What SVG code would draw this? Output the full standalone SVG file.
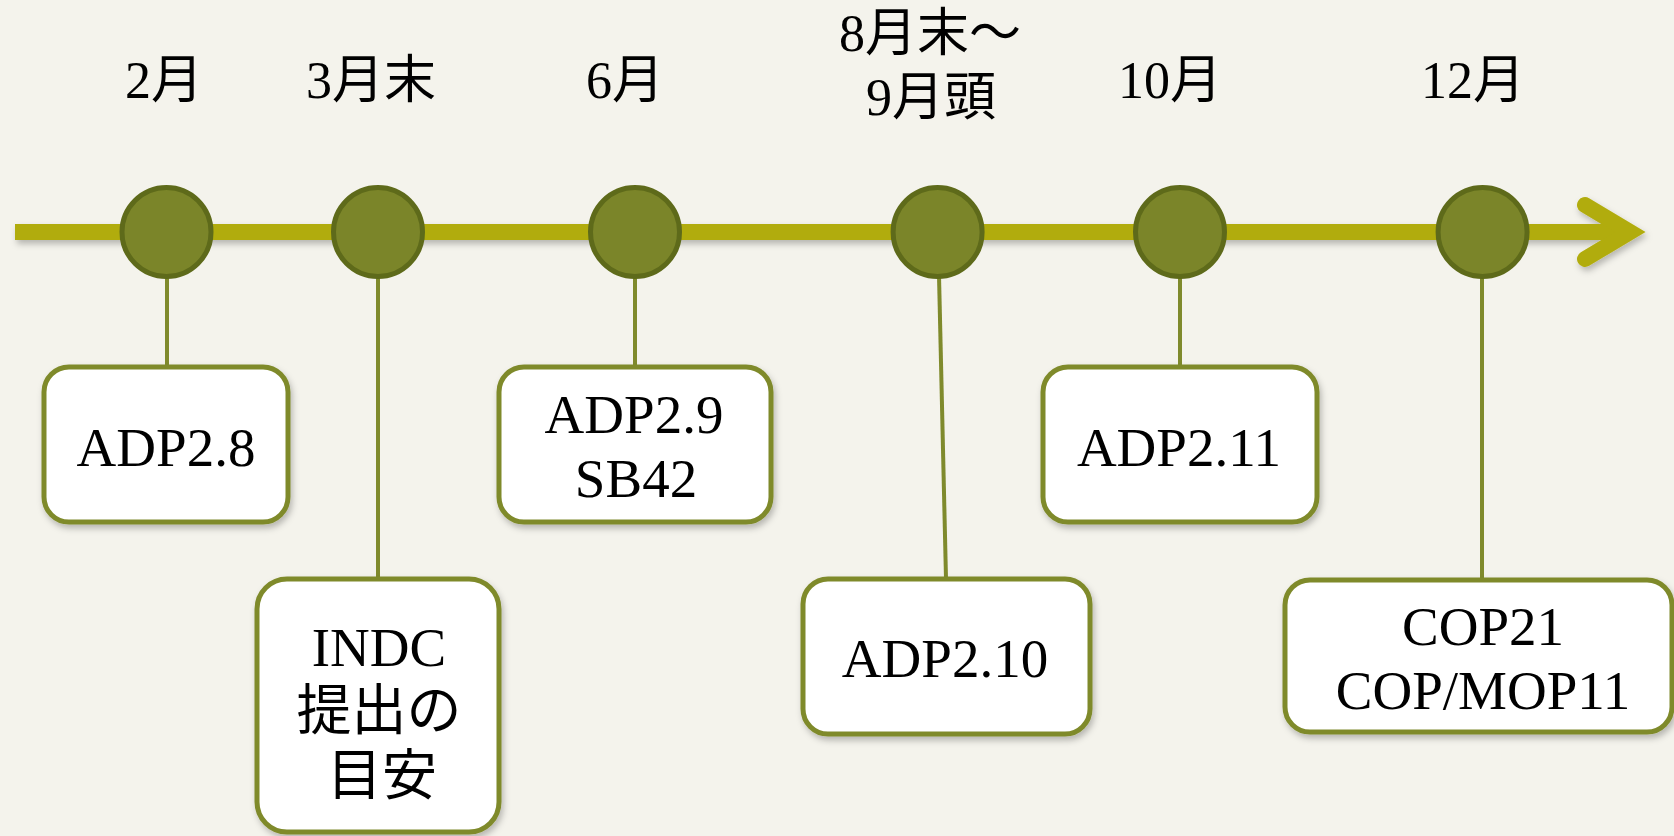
<svg xmlns="http://www.w3.org/2000/svg" width="1674" height="836" viewBox="0 0 1674 836">
<defs>
<filter id="sh" x="-10%" y="-30%" width="120%" height="170%">
<feDropShadow dx="2" dy="4" stdDeviation="3" flood-color="#000" flood-opacity="0.25"/>
</filter>
<style>
.axis{fill:none;stroke:#b1ac0b;stroke-width:16}
.conn{stroke:#7f8a2c;stroke-width:4;fill:none}
.dot{fill:#7b8529;stroke:#5e6a1a;stroke-width:5}
.box{fill:#ffffff;stroke:#7f8a2c;stroke-width:5}
.lbl{font-family:"Liberation Serif","Noto Sans CJK JP",serif;font-size:52px;fill:#000;text-anchor:middle}
.btx{font-family:"Liberation Serif","Noto Sans CJK JP",serif;font-size:55px;fill:#000;text-anchor:middle}
</style>
</defs>
<rect x="0" y="0" width="1674" height="836" fill="#f4f3ec"/>

<g id="timeline" filter="url(#sh)">
<line class="axis" x1="15" y1="232" x2="1630" y2="232"/>
<polyline class="axis" points="1585,205 1630,232 1585,259" stroke-linecap="round" stroke-linejoin="miter"/>
</g>

<g id="connectors">
<line class="conn" x1="167" y1="232" x2="167" y2="367"/>
<line class="conn" x1="378" y1="232" x2="378" y2="579"/>
<line class="conn" x1="635" y1="232" x2="635" y2="367"/>
<line class="conn" x1="938" y1="232" x2="946" y2="579"/>
<line class="conn" x1="1180" y1="232" x2="1180" y2="367"/>
<line class="conn" x1="1482" y1="232" x2="1482" y2="580"/>
</g>

<g id="m-feb">
<circle class="dot" cx="166.5" cy="232" r="44.5"/>
<text class="lbl" x="164" y="98">2月</text>
</g>
<g id="m-mar">
<circle class="dot" cx="378" cy="232" r="44.5"/>
<text class="lbl" x="371" y="98">3月末</text>
</g>
<g id="m-jun">
<circle class="dot" cx="635" cy="232" r="44.5"/>
<text class="lbl" x="625" y="98">6月</text>
</g>
<g id="m-aug">
<circle class="dot" cx="937.6" cy="232" r="44.5"/>
<text class="lbl" x="930" y="51">8月末～</text>
<text class="lbl" x="931" y="115">9月頭</text>
</g>
<g id="m-oct">
<circle class="dot" cx="1180" cy="232" r="44.5"/>
<text class="lbl" x="1170" y="98">10月</text>
</g>
<g id="m-dec">
<circle class="dot" cx="1482.6" cy="232" r="44.5"/>
<text class="lbl" x="1473" y="98">12月</text>
</g>

<g id="b-adp28" filter="url(#sh)">
<rect class="box" x="44" y="367" width="244" height="155" rx="25"/>
<text class="btx" x="166" y="466">ADP2.8</text>
</g>
<g id="b-indc" filter="url(#sh)">
<rect class="box" x="257" y="579" width="242" height="253" rx="30"/>
<text class="btx" x="379" y="666">INDC</text>
<text class="btx" x="379" y="729">提出の</text>
<text class="btx" x="382" y="794">目安</text>
</g>
<g id="b-adp29" filter="url(#sh)">
<rect class="box" x="499" y="367" width="272" height="155" rx="25"/>
<text class="btx" x="634" y="433">ADP2.9</text>
<text class="btx" x="636" y="497">SB42</text>
</g>
<g id="b-adp210" filter="url(#sh)">
<rect class="box" x="803" y="579" width="287" height="155" rx="25"/>
<text class="btx" x="945" y="677">ADP2.10</text>
</g>
<g id="b-adp211" filter="url(#sh)">
<rect class="box" x="1043" y="367" width="274" height="155" rx="25"/>
<text class="btx" x="1179" y="466">ADP2.11</text>
</g>
<g id="b-cop21" filter="url(#sh)">
<rect class="box" x="1285" y="580" width="387" height="152" rx="25"/>
<text class="btx" x="1483" y="645">COP21</text>
<text class="btx" x="1483" y="709">COP/MOP11</text>
</g>
</svg>
